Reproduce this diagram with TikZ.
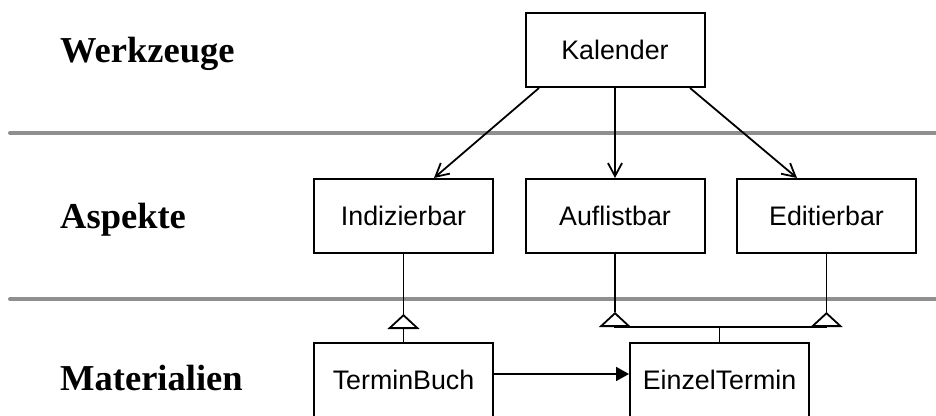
\documentclass[tikz,border=0pt]{standalone}
\usepackage{fontspec}
\setmainfont{Liberation Serif}
\newfontfamily\arialfont{Liberation Sans}
\usepackage{tikz}
\usetikzlibrary{arrows.meta,calc,positioning}
\definecolor{trenn}{gray}{0.56}
\tikzset{
>={Straight Barb[length=13pt,width=14pt]},
node distance=211.5pt,
kasten/.style={draw,line width=2pt,minimum width=179pt,minimum height=74pt,inner sep=0pt,font=\arialfont\fontsize{26.8}{30}\selectfont},
schicht/.style={anchor=base west,inner sep=0pt,font=\bfseries\fontsize{36.5}{40}\selectfont},
trennlinie/.style={trenn,line width=4pt,line cap=round},
pfeil/.style={->,line width=1.8pt},
erbt/.style={-{Triangle[open,length=15pt,width=32pt]},line width=1.8pt}}

\begin{document}
\begin{tikzpicture}[x=1pt,y=-1pt]

\path[use as bounding box,clip] (0,0) rectangle (936,415);

\node[schicht] (werk) at (60,62) {Werkzeuge};
\node[schicht] (asp) at (60,228) {Aspekte};
\node[schicht] (mat) at (60,390) {Materialien};

\draw[trennlinie] (10,133) coordinate (g1) -- (940,133) coordinate (g2);
\draw[trennlinie] (10,299) coordinate (g3) -- (940,299) coordinate (g4);

\node[kasten] (kal) at (615,50) {Kalender};
\node[kasten] (auf) at (615,216) {Auflistbar};
\node[kasten] (idx) [left of=auf] {Indizierbar};
\node[kasten] (edit) [right of=auf] {Editierbar};
\node[kasten] (tbuch) at (403.5,380) {TerminBuch};
\node[kasten] (eterm) at (719.5,380) {EinzelTermin};

\path[pfeil]
	([xshift=-76pt]kal.south) edge ([xshift=30.5pt]idx.north)
	(kal.south) edge (auf.north)
	([xshift=75pt]kal.south) edge ([xshift=-29.5pt]edit.north);

\path (idx.south) ++(0,60) coordinate (s1);
\path (eterm.north) ++(0,-15) coordinate (j);
\coordinate (s2) at ($(j -| auf.south)+(0,-15)$);
\coordinate (s3) at ($(j -| edit.south)+(0,-15)$);

\draw[line width=1.8pt] (idx.south) -- (s1);
\draw[erbt] (tbuch.north) -- (s1);
\draw[line width=1.8pt] (auf.south) -- (s2);
\draw[line width=1.8pt] (edit.south) -- (s3);
\draw[line width=1.8pt] (eterm.north) -- (j);
\draw[line width=1.8pt] (j -| auf.south) -- (j -| edit.south);
\draw[erbt] (j -| auf.south) -- (s2);
\draw[erbt] (j -| edit.south) -- (s3);

\draw[-{Triangle[length=13pt,width=14pt]},line width=1.8pt] ([yshift=6pt]tbuch.east) -- ([yshift=6pt]eterm.west);
\end{tikzpicture}
\end{document}
